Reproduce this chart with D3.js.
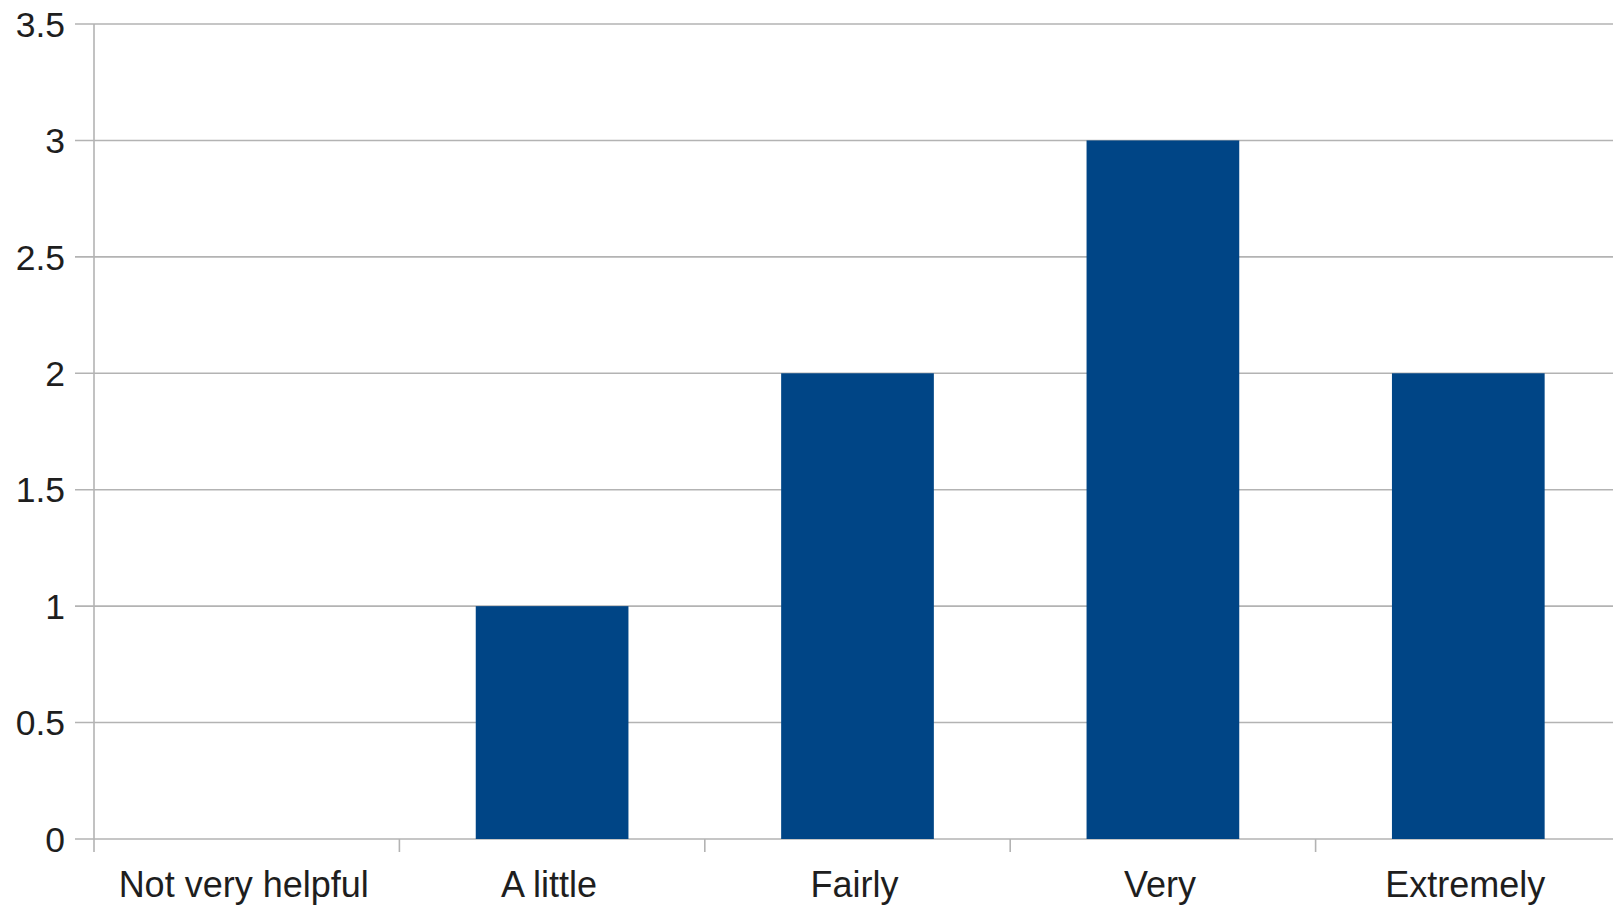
<!DOCTYPE html>
<html>
<head>
<meta charset="utf-8">
<script src="https://cdn.jsdelivr.net/npm/d3@7"></script>
<style>
  html, body { margin: 0; padding: 0; background: #ffffff; }
  svg { display: block; }
  text { font-family: "Liberation Sans", Arial, sans-serif; fill: #1e1e1e; }
</style>
</head>
<body>
<svg id="chart" width="1613" height="906"></svg>
<script>
// Survey responses: how helpful respondents found it
const categories = ["Not very helpful", "A little", "Fairly", "Very", "Extremely"];
const counts = [0, 1, 2, 3, 2];
const yTicks = [0, 0.5, 1, 1.5, 2, 2.5, 3, 3.5];
const yTickLabels = ["0", "0.5", "1", "1.5", "2", "2.5", "3", "3.5"];

const svg = d3.select("#chart");
const margin = { left: 94, top: 24, right: -8, bottom: 67 };
const width = 1613 - margin.left - margin.right;
const height = 906 - margin.top - margin.bottom;

const g = svg.append("g").attr("transform", `translate(${margin.left},${margin.top})`);

const x = d3.scaleBand().domain(categories).range([0, width]).paddingInner(0.5).paddingOuter(0.25);
const xGroup = d3.scaleBand().domain(categories).range([0, width]);
const y = d3.scaleLinear().domain([0, 3.5]).range([height, 0]);

const gridColor = "#b3b3b3";

// horizontal gridlines with left tick marks
g.append("g")
  .selectAll("line")
  .data(yTicks)
  .join("line")
  .attr("x1", -19)
  .attr("x2", width)
  .attr("y1", d => y(d))
  .attr("y2", d => y(d))
  .attr("stroke", gridColor)
  .attr("stroke-width", 1.6);

// y tick labels
g.append("g")
  .selectAll("text")
  .data(yTicks)
  .join("text")
  .attr("x", -29)
  .attr("y", d => y(d))
  .attr("dy", "0.36em")
  .attr("text-anchor", "end")
  .style("font-size", "35.5px")
  .text((d, i) => yTickLabels[i]);

// bars
g.append("g")
  .selectAll("rect")
  .data(categories.map((c, i) => ({ c, v: counts[i] })))
  .join("rect")
  .attr("x", d => x(d.c))
  .attr("width", x.bandwidth())
  .attr("y", d => y(d.v))
  .attr("height", d => y(0) - y(d.v))
  .attr("fill", "#004586");

// y axis line
g.append("line")
  .attr("x1", 0).attr("x2", 0)
  .attr("y1", y(3.5)).attr("y2", height + 13)
  .attr("stroke", gridColor)
  .attr("stroke-width", 1.6);

// category boundary ticks
g.append("g")
  .selectAll("line")
  .data(categories.slice(1))
  .join("line")
  .attr("x1", d => xGroup(d))
  .attr("x2", d => xGroup(d))
  .attr("y1", height)
  .attr("y2", height + 13)
  .attr("stroke", gridColor)
  .attr("stroke-width", 1.6);

// category labels
g.append("g")
  .selectAll("text")
  .data(categories)
  .join("text")
  .attr("x", d => xGroup(d) + xGroup.bandwidth() / 2 - 3)
  .attr("y", height + 58)
  .attr("text-anchor", "middle")
  .style("font-size", "36px")
  .text(d => d);
</script>
</body>
</html>
